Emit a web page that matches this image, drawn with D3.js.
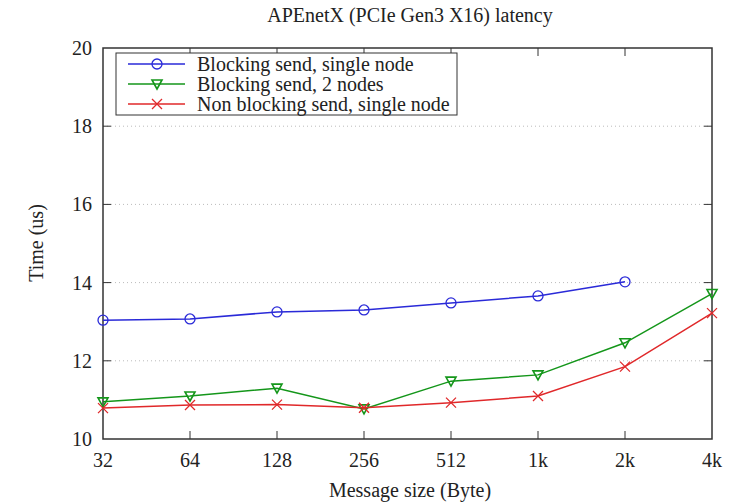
<!DOCTYPE html>
<html>
<head>
<meta charset="utf-8">
<script src="https://cdn.jsdelivr.net/npm/d3@7"></script>
<style>
body { margin: 0; background: #fff; }
</style>
</head>
<body>
<svg id="chart" width="733" height="503"></svg>
<script>
// message sizes (bytes) and their labels
const sizes = [32, 64, 128, 256, 512, 1024, 2048, 4096];
const size_labels = ['32', '64', '128', '256', '512', '1k', '2k', '4k'];
const y_ticks = [10, 12, 14, 16, 18, 20];

// latency in us
const blocking_single = [13.04, 13.07, 13.25, 13.30, 13.48, 13.66, 14.02];
const blocking_two = [10.95, 11.10, 11.30, 10.77, 11.48, 11.64, 12.46, 13.72];
const nonblocking_single = [10.79, 10.87, 10.88, 10.80, 10.93, 11.10, 11.85, 13.22];

const series = [
    {name: 'Blocking send, single node', vals: blocking_single, color: '#2a2ad8', marker: 'circle'},
    {name: 'Blocking send, 2 nodes', vals: blocking_two, color: '#14961a', marker: 'tri'},
    {name: 'Non blocking send, single node', vals: nonblocking_single, color: '#e0282a', marker: 'cross'}
];

const FONT = "'Liberation Serif', 'DejaVu Serif', serif";

const svg = d3.select('#chart').attr('font-family', FONT);
const margin = {top: 48, right: 21, bottom: 64, left: 103};
const width = +svg.attr('width') - margin.left - margin.right;
const height = +svg.attr('height') - margin.top - margin.bottom;

const x = d3.scaleLog().base(2).domain([32, 4096]).range([0, width]);
const y = d3.scaleLinear().domain([10, 20]).range([height, 0]);

const g = svg.append('g').attr('transform', 'translate(' + margin.left + ',' + margin.top + ')');

// dotted horizontal grid
g.selectAll('.grid').data(y_ticks.slice(1, -1)).enter().append('line')
    .attr('x1', 0).attr('x2', width)
    .attr('y1', d => y(d)).attr('y2', d => y(d))
    .attr('stroke', '#bbb').attr('stroke-width', 1).attr('stroke-dasharray', '1,3');

// ticks on all four sides, inward
const tk = 8;
sizes.slice(1, -1).forEach(s => {
    g.append('line').attr('x1', x(s)).attr('x2', x(s)).attr('y1', height).attr('y2', height - tk).attr('stroke', '#333');
    g.append('line').attr('x1', x(s)).attr('x2', x(s)).attr('y1', 0).attr('y2', tk).attr('stroke', '#333');
});
y_ticks.slice(1, -1).forEach(t => {
    g.append('line').attr('x1', 0).attr('x2', tk).attr('y1', y(t)).attr('y2', y(t)).attr('stroke', '#333');
    g.append('line').attr('x1', width).attr('x2', width - tk).attr('y1', y(t)).attr('y2', y(t)).attr('stroke', '#333');
});

g.append('rect').attr('width', width).attr('height', height)
    .attr('fill', 'none').attr('stroke', '#333').attr('stroke-width', 1.5);

function txt(sel) {
    return sel.attr('font-family', FONT).attr('fill', '#222');
}

// tick labels
txt(g.selectAll('.xl').data(sizes).enter().append('text'))
    .attr('x', d => x(d)).attr('y', height + 28)
    .attr('text-anchor', 'middle').attr('font-size', '20px')
    .text((d, i) => size_labels[i]);
txt(g.selectAll('.yl').data(y_ticks).enter().append('text'))
    .attr('x', -11).attr('y', d => y(d)).attr('dy', '0.35em')
    .attr('text-anchor', 'end').attr('font-size', '20px')
    .text(d => d);

// titles
txt(svg.append('text')).attr('x', 410).attr('y', 22).attr('text-anchor', 'middle')
    .attr('font-size', '20px').text('APEnetX (PCIe Gen3 X16) latency');
txt(svg.append('text')).attr('x', 410).attr('y', 497).attr('text-anchor', 'middle')
    .attr('font-size', '20px').text('Message size (Byte)');
txt(svg.append('text')).attr('transform', 'translate(43,243) rotate(-90)').attr('text-anchor', 'middle')
    .attr('font-size', '20px').text('Time (us)');

function draw_marker(sel, kind, color) {
    if (kind === 'circle') {
        sel.append('circle').attr('r', 5).attr('fill', 'none').attr('stroke', color).attr('stroke-width', 1.3);
    } else if (kind === 'tri') {
        sel.append('path').attr('d', 'M-5,-4L5,-4L0,5Z').attr('fill', 'none').attr('stroke', color).attr('stroke-width', 1.6);
    } else {
        sel.append('path').attr('d', 'M-5,-5L5,5M-5,5L5,-5').attr('stroke', color).attr('stroke-width', 1.3);
    }
}

const line = d3.line().x((d, i) => x(sizes[i])).y(d => y(d));

series.forEach(s => {
    g.append('path').datum(s.vals)
        .attr('fill', 'none').attr('stroke', s.color).attr('stroke-width', 1.5)
        .attr('d', line);
    s.vals.forEach((v, i) => {
        const m = g.append('g').attr('transform', 'translate(' + x(sizes[i]) + ',' + y(v) + ')');
        draw_marker(m, s.marker, s.color);
    });
});

// legend
const lg = svg.append('g').attr('transform', 'translate(116,53)');
lg.append('rect').attr('width', 341).attr('height', 62).attr('fill', '#fff').attr('stroke', '#333').attr('stroke-width', 1);
series.forEach((s, i) => {
    const yy = 11 + i * 20;
    lg.append('line').attr('x1', 12).attr('x2', 69).attr('y1', yy).attr('y2', yy).attr('stroke', s.color).attr('stroke-width', 1.5);
    const m = lg.append('g').attr('transform', 'translate(41,' + yy + ')');
    draw_marker(m, s.marker, s.color);
    txt(lg.append('text')).attr('x', 81).attr('y', yy).attr('dy', '0.33em').attr('font-size', '20px').text(s.name);
});
</script>
</body>
</html>
